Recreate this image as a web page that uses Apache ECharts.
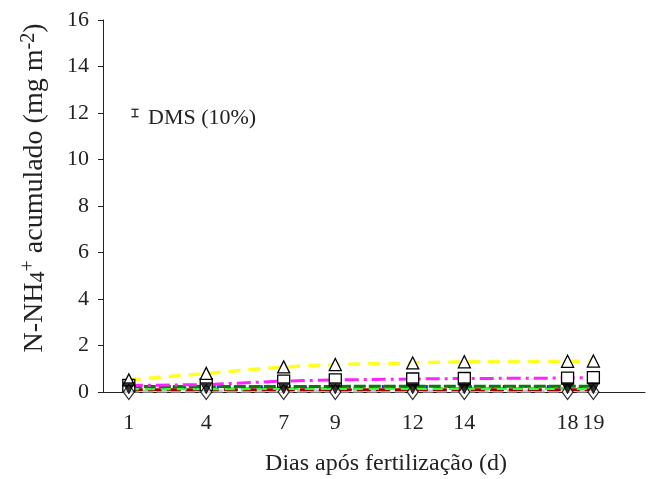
<!DOCTYPE html>
<html>
<head>
<meta charset="utf-8">
<script src="https://cdn.jsdelivr.net/npm/echarts@6/dist/echarts.min.js"></script>
<style>
  html, body { margin: 0; padding: 0; background: #fff; }
  #chart { width: 651px; height: 479px; }
</style>
</head>
<body>
<div id="chart"></div>
<script>
// dias de coleta
const days = [1, 4, 7, 9, 12, 14, 18, 19];
const yTicks = [0, 2, 4, 6, 8, 10, 12, 14, 16];

// N-NH4+ acumulado por tratamento (mg m-2)
const yellowVals = [0.52, 0.80, 1.08, 1.18, 1.25, 1.30, 1.32, 1.33];
const magentaVals = [0.28, 0.32, 0.47, 0.52, 0.56, 0.58, 0.60, 0.62];
const greenVals = [0.24, 0.24, 0.24, 0.24, 0.25, 0.25, 0.25, 0.25];
const blueVals = [0.22, 0.23, 0.23, 0.23, 0.24, 0.24, 0.24, 0.24];
const limeVals = [0.14, 0.14, 0.15, 0.15, 0.15, 0.15, 0.15, 0.15];
const redVals = [0.10, 0.10, 0.10, 0.10, 0.10, 0.10, 0.10, 0.10];
const grayVals = [0.04, 0.04, 0.04, 0.04, 0.04, 0.04, 0.04, 0.04];
const downTriVals = [0.16, 0.16, 0.16, 0.16, 0.16, 0.16, 0.16, 0.16];
const diamondVals = [0.0, 0.0, 0.0, 0.0, 0.0, 0.0, 0.0, 0.0];

// DMS (10%)
const dmsX = 1.24;
const dmsY = 12;
const dmsHalf = 0.16;

const serif = '"Liberation Serif", "DejaVu Serif", serif';

function pairs(vals) {
  return days.map((d, i) => [d, vals[i]]);
}

function lineSeries(name, vals, color, dash, width, symbol, symbolColor, z) {
  return {
    name: name,
    type: 'line',
    data: pairs(vals),
    symbol: symbol || 'none',
    symbolSize: 12,
    showSymbol: !!symbol,
    z: z || 2,
    lineStyle: { color: color, width: width, type: dash, cap: 'butt' },
    itemStyle: { color: symbolColor || '#fff', borderColor: '#000', borderWidth: 1.3 },
    emphasis: { disabled: true },
    animation: false
  };
}

const chart = echarts.init(document.getElementById('chart'));

const option = {
  backgroundColor: '#fff',
  animation: false,
  grid: { left: 103, right: 6, top: 20, bottom: 87, outerBoundsMode: 'none', containLabel: false },
  graphic: [
    {
      type: 'text',
      x: 34,
      y: 188,
      rotation: Math.PI / 2,
      style: {
        text: '{a|N-NH}{sub|4}{sup|+}{a| acumulado (mg m}{sup|-2}{a|)}',
        align: 'center',
        verticalAlign: 'middle',
        fill: '#222',
        rich: {
          a: { fontFamily: serif, fontSize: 28, fill: '#222', verticalAlign: 'bottom', lineHeight: 30 },
          sub: { fontFamily: serif, fontSize: 22, fill: '#222', verticalAlign: 'bottom', lineHeight: 24 },
          sup: { fontFamily: serif, fontSize: 20, fill: '#222', verticalAlign: 'top', lineHeight: 20 }
        }
      }
    }
  ],
  xAxis: {
    type: 'value',
    min: 0,
    max: 21,
    name: 'Dias após fertilização (d)',
    nameLocation: 'middle',
    nameGap: 60,
    nameTextStyle: { fontFamily: serif, fontSize: 24, color: '#222', padding: [0, 0, 0, 24] },
    axisLine: { lineStyle: { color: '#222', width: 1 } },
    axisTick: { show: false },
    splitLine: { show: false },
    axisLabel: {
      customValues: days,
      margin: 20,
      fontFamily: serif,
      fontSize: 22,
      color: '#222'
    }
  },
  yAxis: {
    type: 'value',
    min: 0,
    max: 16,
    interval: 2,
    axisLine: { show: true, lineStyle: { color: '#222', width: 1 } },
    axisTick: { show: true, inside: false, length: 5, lineStyle: { color: '#222' } },
    splitLine: { show: false },
    axisLabel: {
      customValues: yTicks,
      margin: 14,
      fontFamily: serif,
      fontSize: 22,
      color: '#222'
    }
  },
  series: [
    lineSeries('cinza', grayVals, '#c8c8c8', [10, 4], 3, null, null, 1),
    lineSeries('vermelho', redVals, '#a00000', [14, 5], 3, null, null, 2),
    lineSeries('verde claro', limeVals, '#33ff33', [10, 6], 3, null, null, 2),
    lineSeries('azul', blueVals, '#1a1aff', [2, 9], 3, null, null, 3),
    lineSeries('verde', greenVals, '#0a7a0a', [12, 3], 3, null, null, 3),
    lineSeries('magenta', magentaVals, '#ff22ff', [14, 5, 3, 5], 3, 'rect', '#fff', 4),
    lineSeries('amarelo', yellowVals, '#ffff22', [12, 8], 3.5, 'triangle', '#fff', 4),
    {
      name: 'losango',
      type: 'scatter',
      data: pairs(diamondVals),
      symbol: 'diamond',
      symbolSize: [11, 15],
      z: 5,
      itemStyle: { color: '#fff', borderColor: '#000', borderWidth: 1.3 },
      emphasis: { disabled: true }
    },
    {
      name: 'triangulo invertido',
      type: 'scatter',
      data: pairs(downTriVals),
      symbol: 'triangle',
      symbolRotate: 180,
      symbolSize: 11,
      z: 6,
      itemStyle: { color: '#000', borderColor: '#000', borderWidth: 1 },
      emphasis: { disabled: true }
    },
    {
      name: 'DMS',
      type: 'custom',
      data: [[dmsX, dmsY]],
      z: 10,
      renderItem: function (params, api) {
        const top = api.coord([api.value(0), api.value(1) + dmsHalf]);
        const bot = api.coord([api.value(0), api.value(1) - dmsHalf]);
        const w = 3.5;
        const st = { stroke: '#222', lineWidth: 1.3 };
        return {
          type: 'group',
          children: [
            { type: 'line', shape: { x1: top[0], y1: top[1], x2: bot[0], y2: bot[1] }, style: st },
            { type: 'line', shape: { x1: top[0] - w, y1: top[1], x2: top[0] + w, y2: top[1] }, style: st },
            { type: 'line', shape: { x1: bot[0] - w, y1: bot[1], x2: bot[0] + w, y2: bot[1] }, style: st },
            {
              type: 'text',
              style: {
                x: top[0] + 13,
                y: (top[1] + bot[1]) / 2 + 5,
                text: 'DMS (10%)',
                fontFamily: serif,
                fontSize: 22,
                fill: '#222',
                verticalAlign: 'middle'
              }
            }
          ]
        };
      }
    }
  ]
};

chart.setOption(option);
</script>
</body>
</html>
